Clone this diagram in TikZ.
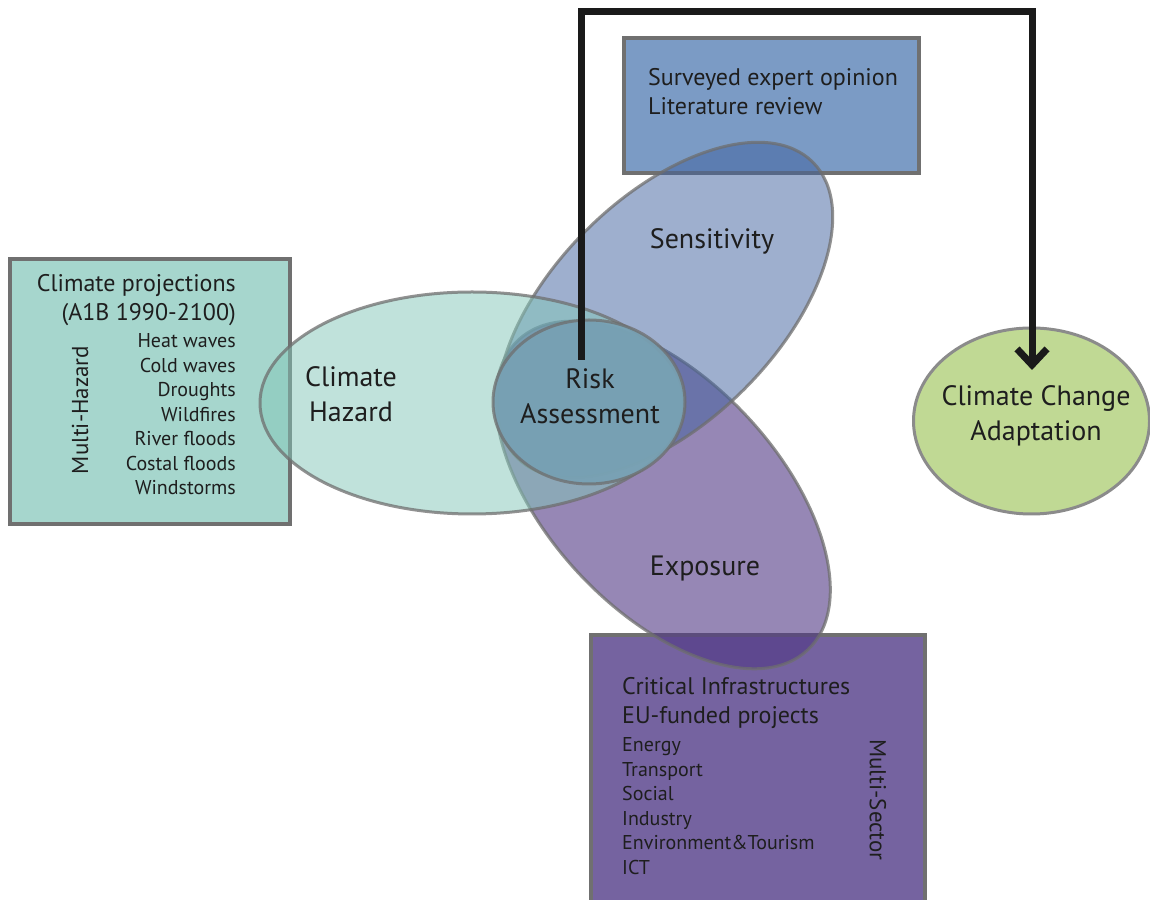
\documentclass[tikz,border=0pt]{standalone}
\usepackage{fontspec}
\setmainfont{PT Sans}
\usetikzlibrary{arrows.meta}

\definecolor{hazboxfill}{RGB}{166,214,205}
\definecolor{srcboxfill}{RGB}{123,155,197}
\definecolor{secboxfill}{RGB}{117,99,160}
\definecolor{hazfill}{RGB}{131,199,185}
\definecolor{sensfill}{RGB}{63,97,159}
\definecolor{expofill}{RGB}{80,55,133}
\definecolor{riskfill}{RGB}{120,161,180}
\definecolor{adaptfill}{RGB}{192,217,148}
\definecolor{edgegray}{RGB}{112,112,112}
\definecolor{ringgray}{RGB}{110,110,110}
\definecolor{inkline}{RGB}{26,26,26}
\definecolor{txt}{RGB}{30,30,30}

\tikzset{
  infobox/.style={draw=edgegray, line width=3.5pt, inner sep=0pt},
  ring/.style={draw=ringgray, draw opacity=0.75, line width=3pt},
  biglabel/.style={text=txt, align=center, font=\fontsize{28}{35}\selectfont},
  headlabel/.style={text=txt, font=\fontsize{24}{29}\selectfont, inner sep=0pt},
  listlabel/.style={text=txt, font=\fontsize{20}{24.5}\selectfont, inner sep=0pt},
  sidelabel/.style={text=txt, font=\fontsize{23}{26}\selectfont, inner sep=0pt},
  flow/.style={draw=inkline, line width=7pt, line join=miter,
    -{Straight Barb[length=16pt, width=30pt]}}
}

\begin{document}
\begin{tikzpicture}[x=1pt,y=1pt]
\useasboundingbox (0,0) rectangle (1150,899);
\clip (0,0) rectangle (1150,899);
\fill[white] (0,0) rectangle (1150,899);

% source boxes
\node[infobox, fill=hazboxfill, minimum width=280pt, minimum height=265pt] (hazbox) at (150,507.5) {};
\node[infobox, fill=srcboxfill, minimum width=295pt, minimum height=135pt] (srcbox) at (771.5,793.5) {};
\node[infobox, fill=secboxfill, minimum width=334pt, minimum height=269pt] (secbox) at (758,129.5) {};

% the four overlapping components
\path[ring, fill=expofill, fill opacity=0.6, rotate around={-47:(663,404)}] (663,404) ellipse [x radius=212pt, y radius=115pt];
\path[ring, fill=sensfill, fill opacity=0.5, rotate around={45:(665,589)}] (665,589) ellipse [x radius=209pt, y radius=112pt];
\path[ring, fill=hazfill, fill opacity=0.5] (472,496) ellipse [x radius=212pt, y radius=111pt];
\path[ring, fill=riskfill, fill opacity=0.92] (589,497) ellipse [x radius=96pt, y radius=82pt];

% adaptation outcome
\path[draw=ringgray!80, line width=3pt, fill=adaptfill] (1031.5,478) ellipse [x radius=118pt, y radius=93pt];

% labels of the components
\node[biglabel] (hazard) at (351,505) {Climate\\Hazard};
\node[biglabel] (risk) at (590,503) {Risk\\Assessment};
\node[biglabel] (sens) at (712,658) {Sensitivity};
\node[biglabel] (expo) at (705,330) {Exposure};
\node[biglabel] (adapt) at (1036,483) {Climate Change\\Adaptation};

% contents of the boxes
\node[headlabel, anchor=west, align=left] (srctext) at (648,807.5) {Surveyed expert opinion\\Literature review};

\node[headlabel, anchor=east, align=right] (hazhead) at (236,599) {Climate projections\\(A1B 1990-2100)};
\node[listlabel, anchor=east, align=right] (hazlist) at (236,484.5) {Heat waves\\Cold waves\\Droughts\\Wildfires\\River floods\\Costal floods\\Windstorms};
\node[sidelabel, rotate=90] (multihaz) at (80,489) {Multi-Hazard};

\node[headlabel, anchor=west, align=left] (sechead) at (622,195.5) {Critical Infrastructures\\EU-funded projects};
\node[listlabel, anchor=west, align=left] (seclist) at (622,93) {Energy\\Transport\\Social\\Industry\\Environment\&Tourism\\ICT};
\node[sidelabel, rotate=-90] (multisec) at (878,99) {Multi-Sector};

% feedback from the assessment to adaptation
\coordinate (riskTop) at (581,539);
\coordinate (railEnd) at (1032,887);
\coordinate (adaptIn) at (1032,529);
\draw[flow] (riskTop) |- (railEnd) -- (adaptIn);
\end{tikzpicture}
\end{document}
